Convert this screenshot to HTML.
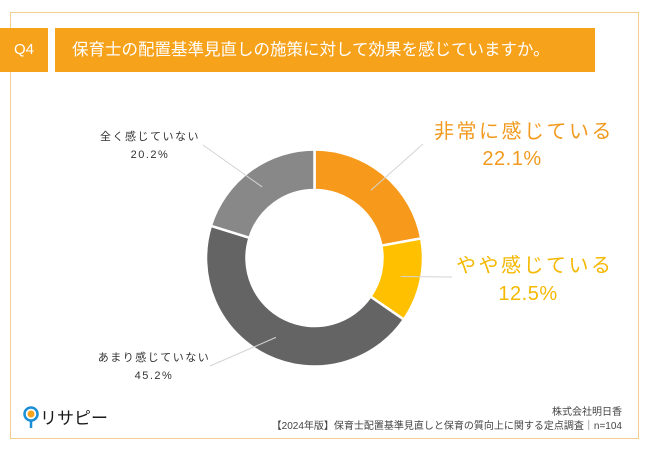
<!DOCTYPE html>
<html><head><meta charset="utf-8">
<style>
html,body{margin:0;padding:0;background:#fff;}
body{width:650px;height:450px;position:relative;overflow:hidden;font-family:"Liberation Sans","Noto Sans CJK JP",sans-serif;}
.frame{position:absolute;left:10px;top:12px;width:629px;height:427px;border:1px solid #f3cf8f;box-sizing:border-box;}
.q{position:absolute;left:0;top:28px;width:48px;height:44px;background:#f7a21b;color:#fff;font-size:15px;line-height:44px;text-align:center;}
.title{position:absolute;left:55px;top:28px;width:540px;height:44px;background:#f7a21b;color:#fff;font-size:16.5px;line-height:44px;padding-left:17px;box-sizing:border-box;}
.lbl{position:absolute;white-space:nowrap;text-align:center;}
.big{color:#f29a1f;font-size:20px;letter-spacing:2.5px;}
.big2{color:#f5b800;font-size:20px;letter-spacing:2.5px;}
.pct{letter-spacing:0.5px;}
.small{color:#333;font-size:11px;letter-spacing:1.5px;}
.foot{position:absolute;right:28px;font-size:10px;color:#444;white-space:nowrap;text-align:right;}
</style></head><body>
<div class="frame"></div>
<div class="q">Q4</div>
<div class="title">保育士の配置基準見直しの施策に対して効果を感じていますか。</div>
<svg id="chart" width="650" height="450" style="position:absolute;left:0;top:0"></svg>
<div class="lbl big" style="left:424px;top:115px;width:200px">非常に感じている</div>
<div class="lbl big pct" style="left:462px;top:148px;width:100px">22.1%</div>
<div class="lbl big2" style="left:456px;top:249px;width:150px">やや感じている</div>
<div class="lbl big2 pct" style="left:478px;top:283px;width:100px">12.5%</div>
<div class="lbl small" style="left:98px;top:128px;width:104px">全く感じていない</div>
<div class="lbl small" style="left:98px;top:149px;width:104px">20.2%</div>
<div class="lbl small" style="left:96px;top:349px;width:116px">あまり感じていない</div>
<div class="lbl small" style="left:96px;top:370px;width:116px">45.2%</div>
<div style="position:absolute;left:22px;top:404px;font-size:17px;color:#1a1a1a;white-space:nowrap">
<svg width="18" height="24" style="vertical-align:-6px"><circle cx="9" cy="8" r="6.5" fill="none" stroke="#1a8fd8" stroke-width="2.5"/><circle cx="9" cy="8" r="3.5" fill="#f7a21b"/><line x1="9" y1="14.5" x2="9" y2="22" stroke="#1a8fd8" stroke-width="2.5"/></svg>リサピー</div>
<div class="foot" style="top:403px">株式会社明日香</div>
<div class="foot" style="top:417px">【2024年版】保育士配置基準見直しと保育の質向上に関する定点調査｜n=104</div>
<script>
const categories = ["非常に感じている","やや感じている","あまり感じていない","全く感じていない"];
const values = [22.1, 12.5, 45.2, 20.2];
const colors = ["#f79a1b","#ffc000","#646464","#888888"];
const labelAnchors = [[423,144],[452,277],[210,366],[203,145]];
const svg = document.getElementById('chart');
const NS = 'http://www.w3.org/2000/svg';
const cx = 314.5, cy = 258, ro = 108.5, ri = 68;
const total = values.reduce((a,b)=>a+b,0);
function pt(r,a){return [cx + r*Math.sin(a), cy - r*Math.cos(a)];}
let acc = 0;
values.forEach((v,i)=>{
  const a0 = acc/total*2*Math.PI; acc += v; const a1 = acc/total*2*Math.PI;
  const large = (a1-a0) > Math.PI ? 1 : 0;
  const [x0,y0]=pt(ro,a0),[x1,y1]=pt(ro,a1),[x2,y2]=pt(ri,a1),[x3,y3]=pt(ri,a0);
  const p = document.createElementNS(NS,'path');
  p.setAttribute('d',`M${x0},${y0}A${ro},${ro} 0 ${large} 1 ${x1},${y1}L${x2},${y2}A${ri},${ri} 0 ${large} 0 ${x3},${y3}Z`);
  p.setAttribute('fill',colors[i]);
  p.setAttribute('stroke','#fff');
  p.setAttribute('stroke-width','2.5');
  
  
  svg.appendChild(p);
  const am = (a0+a1)/2;
  const [mx,my] = pt((ro+ri)/2, am);
  const [ex,ey] = labelAnchors[i];
  const l = document.createElementNS(NS,'line');
  l.setAttribute('x1',mx); l.setAttribute('y1',my);
  l.setAttribute('x2',ex); l.setAttribute('y2',ey);
  l.setAttribute('stroke','#d4d4d4'); l.setAttribute('stroke-width','1');
  
  
  svg.appendChild(l);
});
</script>
</body></html>
